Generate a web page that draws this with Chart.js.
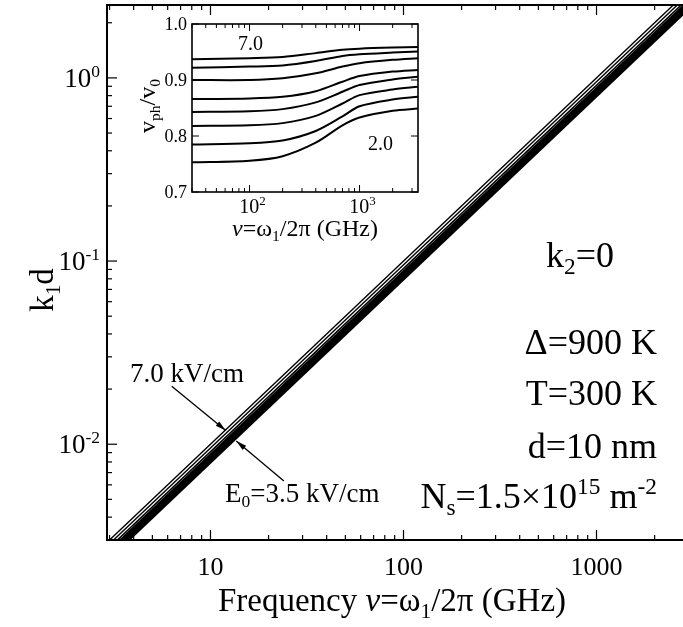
<!DOCTYPE html>
<html>
<head>
<meta charset="utf-8">
<script src="https://cdn.jsdelivr.net/npm/chart.js@4.4.1/dist/chart.umd.min.js"></script>
<style>
  html, body { margin: 0; padding: 0; background: #fff; }
  #wrap { position: relative; width: 683px; height: 627px; overflow: hidden; }
  #mainChart { position: absolute; left: 0; top: 0; }
  #insetChart { position: absolute; left: 128px; top: 10px; }
</style>
</head>
<body>
<div id="wrap">
  <canvas id="mainChart" width="683" height="627"></canvas>
  <canvas id="insetChart" width="300" height="235"></canvas>
</div>
<script>
// --- MAIN PLOT DATA (k1d vs frequency, GHz) ---
const frequency = [3, 3000];
const kd1 = [0.00300, 3.00];
const kd2 = [0.00286, 2.86];
const kd3 = [0.00273, 2.73];
const kd4 = [0.00263, 2.63];
const kd5 = [0.00257, 2.57];
const kd6 = [0.00251, 2.51];
const kd7 = [0.00245, 2.45];
const kd8 = [0.00239, 2.39];
const kdWidths = [1.4, 1.4, 1.6, 2.4, 2.4, 2.4, 2.4, 2.6];

const mainXTicks = [10, 100, 1000];
const mainXLabels = ['10', '100', '1000'];
const mainYTicks = [1, 0.1, 0.01];
const mainYExp = ['0', '-1', '-2'];

// arrows in data coords: [tailX, tailY, tipX, tipY]
const arrow70 = [6.3, 0.0207, 12.0, 0.0119];
const arrow35 = [24, 0.0063, 13.6, 0.0104];

// --- INSET DATA (v_ph / v_0 vs frequency, GHz) ---
const insetFreq = [30, 100, 200, 400, 700, 1000, 2000, 3400];
const vph1 = [0.937, 0.939, 0.941, 0.948, 0.954, 0.956, 0.958, 0.959];
const vph2 = [0.922, 0.924, 0.926, 0.934, 0.943, 0.946, 0.949, 0.951];
const vph3 = [0.900, 0.900, 0.903, 0.912, 0.924, 0.930, 0.936, 0.939];
const vph4 = [0.866, 0.867, 0.870, 0.880, 0.897, 0.907, 0.915, 0.918];
const vph5 = [0.843, 0.844, 0.848, 0.860, 0.879, 0.891, 0.901, 0.906];
const vph6 = [0.818, 0.819, 0.823, 0.836, 0.858, 0.873, 0.883, 0.888];
const vph7 = [0.785, 0.787, 0.792, 0.809, 0.835, 0.853, 0.865, 0.870];
const vph8 = [0.753, 0.756, 0.764, 0.788, 0.819, 0.833, 0.845, 0.849];

const insetXTicks = [100, 1000];
const insetXExp = ['2', '3'];
const insetYTicks = [0.7, 0.8, 0.9, 1.0];
const insetYLabels = ['0.7', '0.8', '0.9', '1.0'];

const FONT = '"Liberation Serif", "Times New Roman", serif';

// --- TEXT HELPERS ---
function setFont(ctx, size, italic) {
    ctx.font = (italic ? 'italic ' : '') + size + 'px ' + FONT;
}

// parts: [text, mode]  mode: '' | 'sub' | 'sup' | 'it'
function drawRich(ctx, parts, x, y, size, align) {
    const segs = parts.map(([t, m]) => {
        const sz = (m === 'sub' || m === 'sup') ? size * 0.65 : size;
        setFont(ctx, sz, m === 'it');
        return { t, m, sz, w: ctx.measureText(t).width };
    });
    const total = segs.reduce((a, s) => a + s.w, 0);
    let cx = align === 'right' ? x - total : align === 'center' ? x - total / 2 : x;
    ctx.textAlign = 'left';
    ctx.textBaseline = 'alphabetic';
    segs.forEach(s => {
        setFont(ctx, s.sz, s.m === 'it');
        const dy = s.m === 'sub' ? size * 0.2 : s.m === 'sup' ? -size * 0.38 : 0;
        ctx.fillText(s.t, cx, y + dy);
        cx += s.w;
    });
}

function drawArrow(ctx, xs, ys, a) {
    const x0 = xs.getPixelForValue(a[0]), y0 = ys.getPixelForValue(a[1]);
    const x1 = xs.getPixelForValue(a[2]), y1 = ys.getPixelForValue(a[3]);
    const ang = Math.atan2(y1 - y0, x1 - x0);
    ctx.lineWidth = 1.3;
    ctx.beginPath(); ctx.moveTo(x0, y0); ctx.lineTo(x1, y1); ctx.stroke();
    ctx.beginPath();
    ctx.moveTo(x1, y1);
    ctx.lineTo(x1 - 11 * Math.cos(ang - 0.25), y1 - 11 * Math.sin(ang - 0.25));
    ctx.lineTo(x1 - 11 * Math.cos(ang + 0.25), y1 - 11 * Math.sin(ang + 0.25));
    ctx.closePath(); ctx.fill();
}

function logTicks(min, max) {
    const out = [];
    for (let e = -4; e <= 4; e++) {
        for (let m = 1; m <= 9; m++) {
            const v = m * Math.pow(10, e);
            if (v >= min && v <= max) out.push({ v, major: m === 1 });
        }
    }
    return out;
}

// --- MAIN DECORATION PLUGIN ---
const mainDecor = {
    id: 'mainDecor',
    afterDraw(chart) {
        const ctx = chart.ctx;
        const xs = chart.scales.x, ys = chart.scales.y;
        const a = chart.chartArea;
        ctx.save();
        ctx.strokeStyle = '#000';
        ctx.fillStyle = '#000';

        // frame
        ctx.lineWidth = 2;
        ctx.beginPath();
        ctx.moveTo(a.right, a.top); ctx.lineTo(a.left, a.top);
        ctx.lineTo(a.left, a.bottom); ctx.lineTo(a.right, a.bottom);
        ctx.stroke();

        // inward ticks
        ctx.lineWidth = 1.2;
        logTicks(xs.min, xs.max).forEach(t => {
            const px = xs.getPixelForValue(t.v);
            const len = t.major ? 10 : 5;
            ctx.beginPath();
            ctx.moveTo(px, a.bottom); ctx.lineTo(px, a.bottom - len);
            ctx.moveTo(px, a.top); ctx.lineTo(px, a.top + len);
            ctx.stroke();
        });
        logTicks(ys.min, ys.max).forEach(t => {
            const py = ys.getPixelForValue(t.v);
            const len = t.major ? 10 : 5;
            ctx.beginPath();
            ctx.moveTo(a.left, py); ctx.lineTo(a.left + len, py);
            ctx.stroke();
        });

        // tick labels
        mainXTicks.forEach((v, i) => {
            drawRich(ctx, [[mainXLabels[i], '']], xs.getPixelForValue(v), 575, 26, 'center');
        });
        mainYTicks.forEach((v, i) => {
            drawRich(ctx, [['10', ''], [mainYExp[i], 'sup']], 100, ys.getPixelForValue(v) + 9, 27, 'right');
        });

        // axis titles
        drawRich(ctx, [['Frequency ', ''], ['ν', 'it'], ['=ω', ''], ['1', 'sub'], ['/2π (GHz)', '']], 392, 611, 33, 'center');
        ctx.save();
        ctx.translate(53, 290);
        ctx.rotate(-Math.PI / 2);
        drawRich(ctx, [['k', ''], ['1', 'sub'], ['d', '']], 0, 0, 33, 'center');
        ctx.restore();

        // parameter annotations
        drawRich(ctx, [['k', ''], ['2', 'sub'], ['=0', '']], 614, 267, 36, 'right');
        drawRich(ctx, [['Δ=900 K', '']], 657, 354, 36, 'right');
        drawRich(ctx, [['T=300 K', '']], 657, 405, 36, 'right');
        drawRich(ctx, [['d=10 nm', '']], 657, 458, 36, 'right');
        drawRich(ctx, [['N', ''], ['s', 'sub'], ['=1.5×10', ''], ['15', 'sup'], [' m', ''], ['-2', 'sup']], 657, 508, 36, 'right');

        // field labels and arrows
        drawRich(ctx, [['7.0 kV/cm', '']], 130, 382, 27, 'left');
        drawRich(ctx, [['E', ''], ['0', 'sub'], ['=3.5 kV/cm', '']], 225, 502, 27, 'left');
        drawArrow(ctx, xs, ys, arrow70);
        drawArrow(ctx, xs, ys, arrow35);
        ctx.restore();
    }
};

// --- INSET DECORATION PLUGIN ---
const insetDecor = {
    id: 'insetDecor',
    afterDraw(chart) {
        const ctx = chart.ctx;
        const xs = chart.scales.x, ys = chart.scales.y;
        const a = chart.chartArea;
        ctx.save();
        ctx.strokeStyle = '#000';
        ctx.fillStyle = '#000';
        ctx.lineWidth = 1.6;
        ctx.strokeRect(a.left, a.top, a.right - a.left, a.bottom - a.top);

        ctx.lineWidth = 1;
        logTicks(xs.min, xs.max).forEach(t => {
            const px = xs.getPixelForValue(t.v);
            const len = t.major ? 7 : 4;
            ctx.beginPath();
            ctx.moveTo(px, a.bottom); ctx.lineTo(px, a.bottom - len);
            ctx.moveTo(px, a.top); ctx.lineTo(px, a.top + len);
            ctx.stroke();
        });
        insetYTicks.forEach(v => {
            const py = ys.getPixelForValue(v);
            ctx.beginPath();
            ctx.moveTo(a.left, py); ctx.lineTo(a.left + 7, py);
            ctx.moveTo(a.right, py); ctx.lineTo(a.right - 7, py);
            ctx.stroke();
        });

        insetYTicks.forEach((v, i) => {
            drawRich(ctx, [[insetYLabels[i], '']], a.left - 5, ys.getPixelForValue(v) + 6, 18, 'right');
        });
        insetXTicks.forEach((v, i) => {
            drawRich(ctx, [['10', ''], [insetXExp[i], 'sup']], xs.getPixelForValue(v) + 3, a.bottom + 21, 20, 'center');
        });

        drawRich(ctx, [['ν', 'it'], ['=ω', ''], ['1', 'sub'], ['/2π (GHz)', '']], 177, 226, 24, 'center');
        ctx.save();
        ctx.translate(27, 96);
        ctx.rotate(-Math.PI / 2);
        drawRich(ctx, [['v', ''], ['ph', 'sub'], ['/v', ''], ['0', 'sub']], 0, 0, 24, 'center');
        ctx.restore();

        drawRich(ctx, [['7.0', '']], 110, 40, 20, 'left');
        drawRich(ctx, [['2.0', '']], 240, 140, 20, 'left');
        ctx.restore();
    }
};

// --- CHART CREATION ---
const kdSeries = [kd1, kd2, kd3, kd4, kd5, kd6, kd7, kd8];
new Chart(document.getElementById('mainChart').getContext('2d'), {
    type: 'scatter',
    data: {
        datasets: kdSeries.map((d, i) => ({
            data: frequency.map((f, j) => ({ x: f, y: d[j] })),
            showLine: true, borderColor: '#000', borderWidth: kdWidths[i],
            pointRadius: 0, fill: false, clip: 0
        }))
    },
    options: {
        responsive: false, animation: false, events: [],
        layout: { padding: { top: 5, right: 0, left: 0, bottom: 0 } },
        plugins: { legend: { display: false }, tooltip: { enabled: false } },
        scales: {
            x: { type: 'logarithmic', min: 2.91, max: 2806, ticks: { display: false }, grid: { display: false }, border: { display: false }, afterFit: s => { s.height = 87; } },
            y: { type: 'logarithmic', min: 0.003, max: 2.5, ticks: { display: false }, grid: { display: false }, border: { display: false }, afterFit: s => { s.width = 107; } }
        }
    },
    plugins: [mainDecor]
});

const vphSeries = [vph1, vph2, vph3, vph4, vph5, vph6, vph7, vph8];
new Chart(document.getElementById('insetChart').getContext('2d'), {
    type: 'scatter',
    data: {
        datasets: vphSeries.map(d => ({
            data: insetFreq.map((f, j) => ({ x: f, y: d[j] })),
            showLine: true, borderColor: '#000', borderWidth: 2,
            pointRadius: 0, fill: false, clip: 0, tension: 0.3
        }))
    },
    options: {
        responsive: false, animation: false, events: [],
        layout: { padding: { top: 14, right: 10, left: 0, bottom: 0 } },
        plugins: { legend: { display: false }, tooltip: { enabled: false } },
        scales: {
            x: { type: 'logarithmic', min: 30, max: 3400, ticks: { display: false }, grid: { display: false }, border: { display: false }, afterFit: s => { s.height = 53; } },
            y: { type: 'linear', min: 0.7, max: 1.0, ticks: { display: false }, grid: { display: false }, border: { display: false }, afterFit: s => { s.width = 64; } }
        }
    },
    plugins: [insetDecor]
});
</script>
</body>
</html>
